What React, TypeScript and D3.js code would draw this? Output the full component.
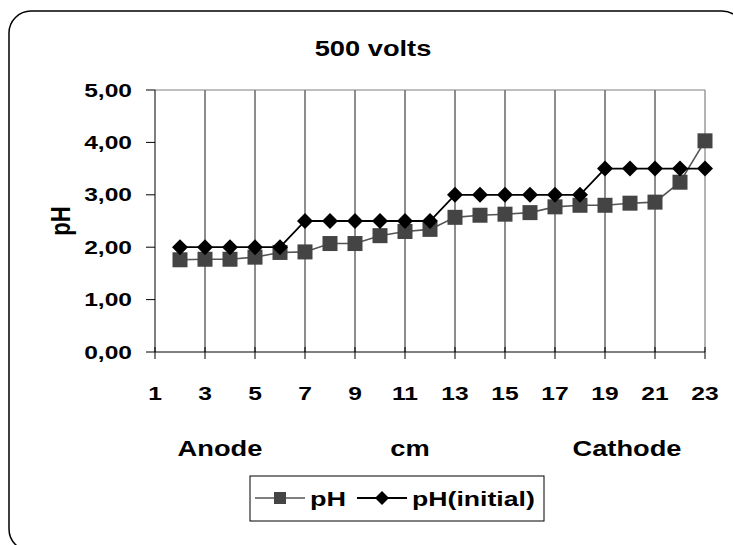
import React from "react";
import * as d3 from "d3";

const categories = [2, 3, 4, 5, 6, 7, 8, 9, 10, 11, 12, 13, 14, 15, 16, 17, 18, 19, 20, 21, 22, 23];
const phValues = [1.76, 1.77, 1.77, 1.81, 1.9, 1.91, 2.07, 2.07, 2.22, 2.3, 2.34, 2.57, 2.61, 2.63, 2.66, 2.77, 2.8, 2.8, 2.84, 2.86, 3.24, 4.03];
const phInitialValues = [2.0, 2.0, 2.0, 2.0, 2.0, 2.5, 2.5, 2.5, 2.5, 2.5, 2.5, 3.0, 3.0, 3.0, 3.0, 3.0, 3.0, 3.5, 3.5, 3.5, 3.5, 3.5];
const xTickLabels = [1, 3, 5, 7, 9, 11, 13, 15, 17, 19, 21, 23];
const yTickValues = [0, 1, 2, 3, 4, 5];
const seriesNames = ["pH", "pH(initial)"];
const titleText = "500 volts";
const xTitles = ["Anode", "cm", "Cathode"];
const yTitle = "pH";

const W = 733;
const H = 545;
const FONT = "'Liberation Sans', Arial, Helvetica, sans-serif";

function T({ x, y, size, sx = 1.36, anchor = "middle", children }: any) {
  return (
    <text
      transform={`translate(${x},${y}) scale(${sx},1)`}
      textAnchor={anchor}
      fontFamily={FONT}
      fontWeight="bold"
      fontSize={size}
      fill="#000"
    >
      {children}
    </text>
  );
}

export default function App() {
  const x = d3.scaleLinear().domain([1, 23]).range([155, 705]);
  const y = d3.scaleLinear().domain([0, 5]).range([352, 90]);
  const line = d3
    .line<number>()
    .x((_, i) => x(categories[i]))
    .y((d) => y(d));

  const sq = 15;
  const dm = 8;
  const diamond = (cx: number, cy: number) =>
    `M${cx},${cy - dm} L${cx + dm},${cy} L${cx},${cy + dm} L${cx - dm},${cy} Z`;

  return (
    <svg
      width={W}
      height={H}
      style={{ position: "absolute", left: 0, top: 0, background: "#fff" }}
    >
      <rect x={9} y={11} width={735} height={540} rx={22} ry={22} fill="#fff" stroke="#000" strokeWidth={1.5} />

      <T x={373} y={56} size={22} sx={1.24}>{titleText}</T>

      {/* vertical gridlines */}
      {xTickLabels.slice(1, -1).map((c) => (
        <line key={"g" + c} x1={x(c)} x2={x(c)} y1={y(5)} y2={y(0)} stroke="#1a1a1a" strokeWidth={1} />
      ))}
      {/* plot border top/right */}
      <line x1={x(1)} x2={x(23)} y1={y(5)} y2={y(5)} stroke="#808080" strokeWidth={1.2} />
      <line x1={x(23)} x2={x(23)} y1={y(5)} y2={y(0)} stroke="#808080" strokeWidth={1.2} />

      {/* axes */}
      <line x1={x(1)} x2={x(1)} y1={y(5)} y2={y(0)} stroke="#000" strokeWidth={1} />
      <line x1={x(1)} x2={x(23)} y1={y(0)} y2={y(0)} stroke="#000" strokeWidth={1} />
      {yTickValues.map((v) => (
        <g key={"y" + v}>
          <line x1={x(1) - 9} x2={x(1)} y1={y(v)} y2={y(v)} stroke="#000" strokeWidth={1} />
          <T x={132} y={y(v) + 6.5} size={18.5} sx={1.33} anchor="end">
            {d3.format(".2f")(v).replace(".", ",")}
          </T>
        </g>
      ))}
      {xTickLabels.map((c) => (
        <g key={"x" + c}>
          <line x1={x(c)} x2={x(c)} y1={y(0) - 5} y2={y(0) + 7} stroke="#000" strokeWidth={1} />
          <T x={x(c)} y={400} size={18.5} sx={1.33}>{c}</T>
        </g>
      ))}

      <T x={220} y={456} size={22} sx={1.24}>{xTitles[0]}</T>
      <T x={410} y={456} size={22} sx={1.24}>{xTitles[1]}</T>
      <T x={627} y={456} size={22} sx={1.24}>{xTitles[2]}</T>

      <text
        transform={`translate(70,221) scale(1.25,1) rotate(-90)`}
        textAnchor="middle"
        fontFamily={FONT}
        fontWeight="bold"
        fontSize={22}
      >
        {yTitle}
      </text>

      {/* series pH */}
      <path d={line(phValues) || ""} fill="none" stroke="#555" strokeWidth={1.6} />
      {/* series pH initial */}
      <path d={line(phInitialValues) || ""} fill="none" stroke="#000" strokeWidth={1.8} />
      {phValues.map((v, i) => (
        <rect key={"s" + i} x={x(categories[i]) - sq / 2} y={y(v) - sq / 2} width={sq} height={sq} fill="#444" />
      ))}
      {phInitialValues.map((v, i) => (
        <path key={"d" + i} d={diamond(x(categories[i]), y(v))} fill="#000" />
      ))}

      {/* legend */}
      <rect x={250} y={476} width={294} height={45} fill="#fff" stroke="#000" strokeWidth={1} />
      <line x1={255} x2={305} y1={498} y2={498} stroke="#555" strokeWidth={1.6} />
      <rect x={280 - 6} y={498 - 6} width={12} height={12} fill="#444" />
      <T x={310} y={506} size={20.5} sx={1.32} anchor="start">{seriesNames[0]}</T>
      <line x1={357} x2={407} y1={498} y2={498} stroke="#000" strokeWidth={1.8} />
      <path d={`M382,491 L389,498 L382,505 L375,498 Z`} fill="#000" />
      <T x={412} y={506} size={20.5} sx={1.3} anchor="start">{seriesNames[1]}</T>
    </svg>
  );
}
